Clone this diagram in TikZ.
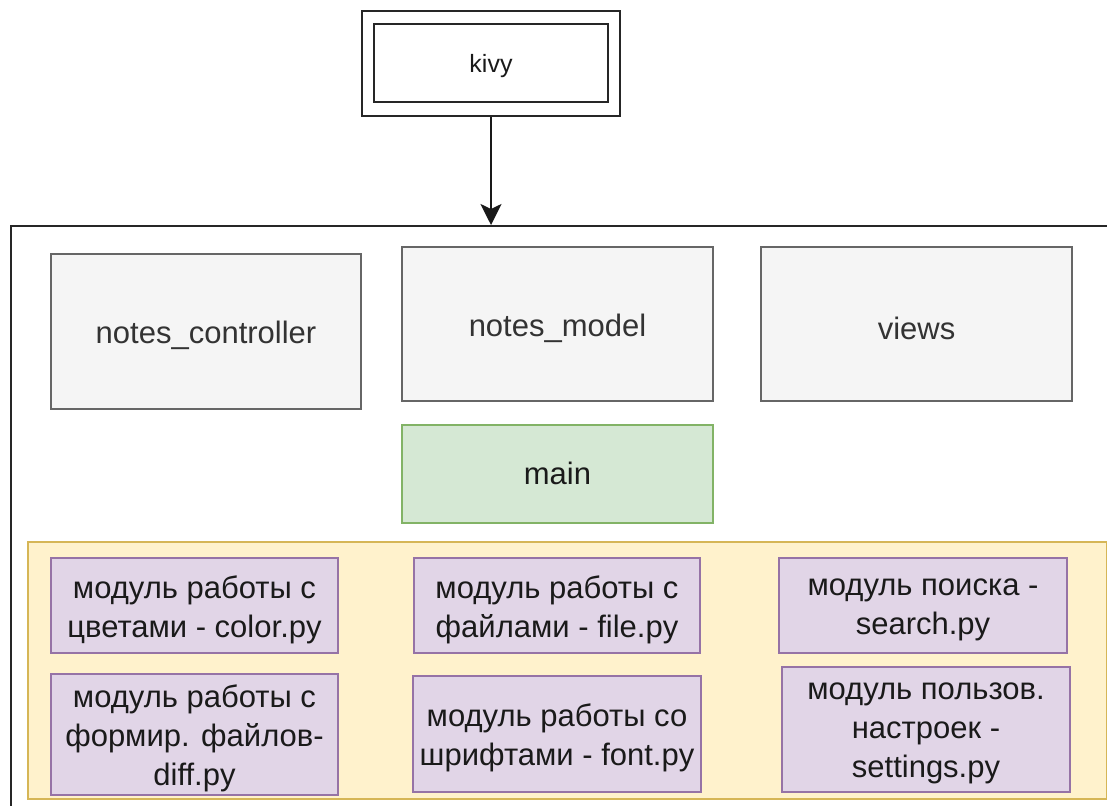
\documentclass[tikz,border=0pt]{standalone}
\usepackage{fontspec}
\setmainfont{Liberation Sans}
\usetikzlibrary{arrows.meta}
\definecolor{grayfill}{HTML}{F5F5F5}
\definecolor{graystroke}{HTML}{666666}
\definecolor{greenfill}{HTML}{D5E8D4}
\definecolor{greenstroke}{HTML}{82B366}
\definecolor{yellowfill}{HTML}{FFF2CC}
\definecolor{yellowstroke}{HTML}{D6B656}
\definecolor{purplefill}{HTML}{E1D5E7}
\definecolor{purplestroke}{HTML}{9673A6}
\definecolor{txt}{HTML}{1A1A1A}
\definecolor{txtgray}{HTML}{333333}
\begin{document}
\begin{tikzpicture}[x=1pt,y=-1pt,
  base/.style={rectangle, inner sep=0pt, align=center, line width=2pt},
  bigfont/.style={font=\fontsize{31}{39}\selectfont},
  lbl/.style={align=center, inner sep=0pt, yshift=-4pt},
  graybox/.style={base, draw=graystroke, fill=grayfill},
  graytext/.style={lbl, bigfont, text=txtgray},
  greenbox/.style={base, bigfont, draw=greenstroke, fill=greenfill, text=txt},
  purplebox/.style={base, draw=purplestroke, fill=purplefill},
  purpletext/.style={lbl, bigfont, text=txt},
  yellowbox/.style={base, draw=yellowstroke, fill=yellowfill},
  outerbox/.style={base, draw=black!85, line width=2.2pt},
  kivyouter/.style={base, draw=black!85, line width=2.8pt},
  kivyinner/.style={base, draw=black!85, line width=2.8pt},
  kivytext/.style={lbl, yshift=1pt, font=\fontsize{25}{30}\selectfont, text=txt},
  conn/.style={draw=black!90, line width=2.2pt, -{Stealth[length=21pt, width=21pt, inset=5pt]}}
]
\useasboundingbox (0,0) rectangle (1107,805);
\clip (0,0) rectangle (1107,805);
\fill[white] (0,0) rectangle (1107,805);

% kivy double box
\node[kivyouter, minimum width=258, minimum height=105] (kivyo) at (491,63.5) {};
\node[kivyinner, minimum width=234, minimum height=78, label={[kivytext]center:kivy}] (kivy) at (491,63) {};

% big container (extends beyond right and bottom)
\node[outerbox, minimum width=1120, minimum height=620, anchor=north west] (cont) at (10,225) {};

% top row
\node[graybox, minimum width=310, minimum height=155, label={[graytext]center:notes\_controller}] (ctrl) at (206,331.5) {};
\node[graybox, minimum width=311, minimum height=154, label={[graytext]center:notes\_model}] (model) at (557.5,324) {};
\node[graybox, minimum width=311, minimum height=154, label={[graytext]center:views}] (views) at (916.5,324) {};

% main
\node[greenbox, minimum width=311, minimum height=98] (main) at (557.5,473.5) {main};

% yellow container
\node[yellowbox, minimum width=1079, minimum height=257, anchor=north west] (mods) at (27,541) {};

% modules
\node[purplebox, minimum width=287, minimum height=95, label={[purpletext]center:модуль работы с\\цветами - color.py}] (color) at (194.5,605.5) {};
\node[purplebox, minimum width=287, minimum height=121, label={[purpletext]center:модуль работы с\\формир. файлов-\\diff.py}] (diff) at (194.5,734.5) {};
\node[purplebox, minimum width=286, minimum height=95, label={[purpletext]center:модуль работы с\\файлами - file.py}] (file) at (557,605.5) {};
\node[purplebox, minimum width=288, minimum height=116, label={[purpletext]center:модуль работы со\\шрифтами - font.py}] (font) at (557,734) {};
\node[purplebox, minimum width=288, minimum height=95, label={[purpletext]center:модуль поиска -\\search.py}] (search) at (923,605.5) {};
\node[purplebox, minimum width=288, minimum height=125, label={[purpletext]center:модуль пользов.\\настроек -\\settings.py}] (settings) at (926,729.5) {};

% connector
\draw[conn] (kivyo.south) -- (kivyo.south |- cont.north);
\end{tikzpicture}
\end{document}
